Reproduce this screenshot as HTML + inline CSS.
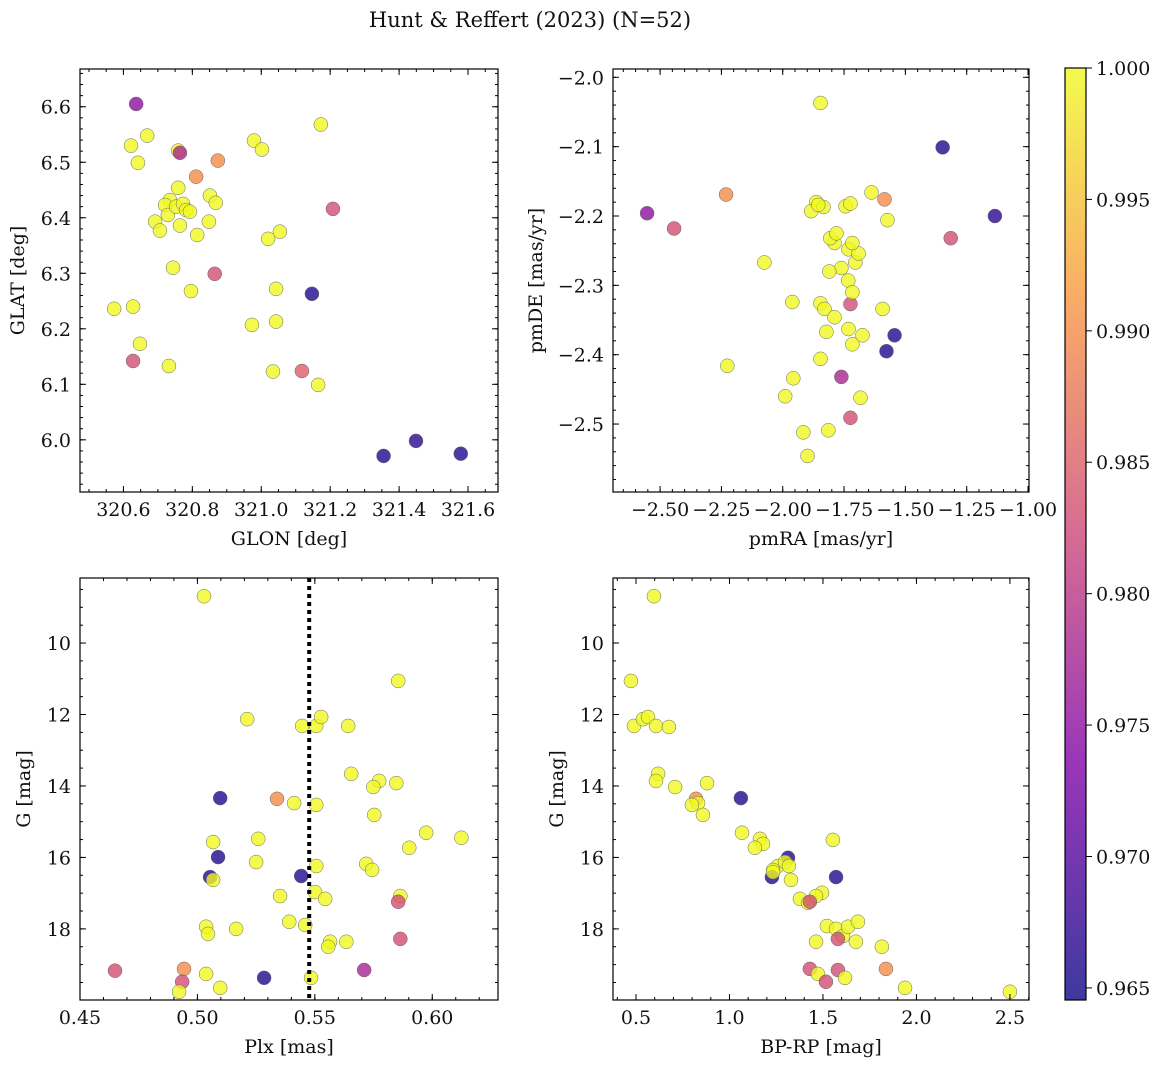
<!DOCTYPE html>
<html><head><meta charset="utf-8">
<style>
html,body{margin:0;padding:0;background:#fff;}
svg text{font-family:"DejaVu Serif","Liberation Serif",serif;fill:#111;}
</style></head>
<body>
<svg id="chart" width="1161" height="1068" xmlns="http://www.w3.org/2000/svg">
<defs>
<linearGradient id="plasma" x1="0" y1="1" x2="0" y2="0">
<stop offset="0" stop-color="#0d0887"/><stop offset="0.25" stop-color="#7e03a8"/>
<stop offset="0.5" stop-color="#cc4778"/><stop offset="0.75" stop-color="#f89540"/>
<stop offset="1" stop-color="#f0f921"/></linearGradient>
</defs>
<text x="530" y="27" font-size="21" text-anchor="middle">Hunt &amp; Reffert (2023) (N=52)</text>
</svg>
<script>
// ---- data ----
const p1_glon=[320.637,320.622,320.669,320.642,320.759,320.764,320.874,321.173,320.979,321.002,320.811,321.208,320.759,320.735,320.721,320.692,320.729,320.753,320.773,320.782,320.793,320.764,320.706,320.851,320.868,320.848,320.814,320.744,320.796,320.865,321.043,321.054,321.020,321.043,320.973,321.034,321.147,320.573,320.628,320.648,320.628,320.732,321.118,321.165,321.355,321.449,321.579];
const p1_glat=[6.605,6.530,6.548,6.499,6.521,6.517,6.503,6.568,6.539,6.523,6.474,6.416,6.454,6.432,6.423,6.393,6.405,6.42,6.425,6.414,6.411,6.386,6.377,6.44,6.427,6.393,6.369,6.31,6.268,6.299,6.272,6.375,6.362,6.213,6.207,6.123,6.263,6.236,6.240,6.173,6.142,6.133,6.124,6.099,5.971,5.998,5.975];
const p1_prob=[0.975,1,1,1,1,0.978,0.99,1,1,1,0.99,0.983,1,1,1,1,1,1,1,1,1,1,1,1,1,1,1,1,1,0.983,1,1,1,1,1,1,0.966,1,1,1,0.983,1,0.985,1,0.966,0.967,0.966];

const p2_pmra=[-1.846,-2.553,-2.443,-2.231,-2.075,-2.226,-1.961,-1.957,-1.990,-1.916,-1.899,-1.814,-1.846,-1.822,-1.846,-1.830,-1.789,-1.761,-1.724,-1.683,-1.724,-1.732,-1.716,-1.675,-1.733,-1.716,-1.761,-1.810,-1.789,-1.806,-1.781,-1.732,-1.704,-1.691,-1.716,-1.863,-1.884,-1.834,-1.855,-1.744,-1.724,-1.638,-1.585,-1.573,-1.593,-1.544,-1.577,-1.348,-1.135,-1.315];
const p2_pmde=[-2.037,-2.196,-2.218,-2.169,-2.267,-2.416,-2.324,-2.434,-2.460,-2.512,-2.546,-2.509,-2.406,-2.367,-2.326,-2.334,-2.346,-2.432,-2.491,-2.462,-2.327,-2.363,-2.385,-2.372,-2.293,-2.31,-2.275,-2.28,-2.239,-2.232,-2.225,-2.248,-2.267,-2.254,-2.239,-2.18,-2.193,-2.187,-2.184,-2.186,-2.182,-2.166,-2.176,-2.206,-2.334,-2.372,-2.395,-2.101,-2.2,-2.232];
const p2_prob=[1,0.975,0.983,0.99,1,1,1,1,1,1,1,1,1,1,1,1,1,0.978,0.983,1,0.983,1,1,1,1,1,1,1,1,1,1,1,1,1,1,1,1,1,1,1,1,1,0.99,1,1,0.966,0.966,0.966,0.967,0.983];

const p3_plx=[0.5028,0.5855,0.5212,0.5446,0.5506,0.5527,0.5642,0.5655,0.5774,0.5749,0.5847,0.5753,0.5097,0.5339,0.5412,0.5506,0.5067,0.5259,0.5974,0.6124,0.5902,0.525,0.5088,0.5506,0.5719,0.5744,0.5054,0.5067,0.5442,0.5352,0.5501,0.5544,0.5864,0.5855,0.5391,0.5459,0.5037,0.5045,0.5165,0.5565,0.5557,0.5634,0.5864,0.4649,0.4943,0.4935,0.5037,0.5284,0.5484,0.571,0.4922,0.5097];
const p3_g=[8.69,11.06,12.13,12.32,12.32,12.07,12.32,13.66,13.86,14.03,13.92,14.81,14.34,14.36,14.48,14.53,15.57,15.48,15.31,15.45,15.73,16.13,15.99,16.24,16.18,16.35,16.55,16.63,16.52,17.08,16.97,17.16,17.08,17.24,17.80,17.89,17.94,18.14,18.0,18.36,18.5,18.36,18.28,19.17,19.12,19.48,19.26,19.37,19.37,19.15,19.76,19.65];
const p3_prob=[1,1,1,1,1,1,1,1,1,1,1,1,0.966,0.99,1,1,1,1,1,1,1,1,0.966,1,1,1,0.966,1,0.966,1,1,1,1,0.983,1,1,1,1,1,1,1,1,0.983,0.983,0.99,0.983,1,0.966,1,0.978,1,1];
const p3_cut=[0.5476];

const p4_bprp=[0.596,0.473,0.489,0.537,0.564,0.607,0.676,0.618,0.607,0.709,0.880,0.821,0.832,0.799,0.858,1.061,1.067,1.163,1.179,1.136,1.553,1.313,1.259,1.297,1.318,1.233,1.227,1.233,1.329,1.570,1.377,1.420,1.495,1.463,1.430,1.521,1.570,1.607,1.634,1.687,1.463,1.676,1.580,1.815,1.430,1.473,1.516,1.580,1.618,1.837,1.939,2.500];
const p4_g=[8.69,11.06,12.32,12.13,12.07,12.32,12.35,13.66,13.86,14.03,13.92,14.36,14.48,14.53,14.81,14.34,15.31,15.48,15.62,15.73,15.51,16.01,16.24,16.13,16.24,16.35,16.55,16.41,16.63,16.55,17.16,17.27,16.99,17.08,17.24,17.92,18.0,18.2,17.94,17.80,18.36,18.36,18.28,18.50,19.12,19.26,19.48,19.15,19.37,19.12,19.65,19.76];
const p4_prob=[1,1,1,1,1,1,1,1,1,1,1,0.99,1,1,1,0.966,1,1,1,1,1,0.966,1,1,1,1,0.966,1,1,0.966,1,1,1,1,0.983,1,1,1,1,1,1,1,0.983,1,0.983,1,0.983,0.983,1,0.99,1,1];

const cbTicks=[0.965,0.970,0.975,0.980,0.985,0.990,0.995,1.000];
const CMIN=0.96454, CMAX=1.0;

// ---- helpers ----
const NS="http://www.w3.org/2000/svg";
const svg=document.getElementById('chart');
const FS=19;
function mk(tag,attrs,parent){const e=document.createElementNS(NS,tag);for(const k in attrs)e.setAttribute(k,attrs[k]);(parent||svg).appendChild(e);return e;}
const stops=[[0,[13,8,135]],[0.25,[126,3,168]],[0.5,[204,71,120]],[0.75,[248,149,64]],[1,[240,249,33]]];
function cmap(v){let t=(v-CMIN)/(CMAX-CMIN);t=Math.max(0,Math.min(1,t));
 for(let i=0;i<stops.length-1;i++){const a=stops[i],b=stops[i+1];if(t<=b[0]){const f=(t-a[0])/(b[0]-a[0]);return 'rgb('+a[1].map((c,j)=>Math.round(c+(b[1][j]-c)*f)).join(',')+')';}}
 return 'rgb(240,249,33)';}
function fmt(v,d){const s=Math.abs(v).toFixed(d);return (v<-1e-9?'\u2212':'')+s;}

function panel(o){
 const g=mk('g',{});
 
 
 const sx=v=>o.x0+(v-o.xmin)/(o.xmax-o.xmin)*(o.x1-o.x0);
 const sy=v=>o.inv? o.y0+(v-o.ymin)/(o.ymax-o.ymin)*(o.y1-o.y0) : o.y1-(v-o.ymin)/(o.ymax-o.ymin)*(o.y1-o.y0);
 for(let i=0;i<o.xs.length;i++){
  const c=mk('circle',{cx:sx(o.xs[i]),cy:sy(o.ys[i]),r:7,fill:cmap(o.cs[i]),'fill-opacity':0.8,stroke:'#666','stroke-width':0.5},g);
  
  
 }
 if(o.vline){o.vline.forEach(v=>{const l=mk('line',{x1:sx(v),x2:sx(v),y1:o.y0,y2:o.y1,stroke:'#000','stroke-width':4,'stroke-dasharray':'4,4'},g);
  
  });}
 const fr=mk('rect',{x:o.x0,y:o.y0,width:o.x1-o.x0,height:o.y1-o.y0,fill:'none',stroke:'#000','stroke-width':1.2},g);
 
 
 const eps=1e-9;
 function ticksRange(a,b,step){const r=[];const s=Math.ceil((Math.min(a,b)-eps)/step);for(let k=s;k*step<=Math.max(a,b)+eps;k++)r.push(k*step);return r;}
 ticksRange(o.xmin,o.xmax,o.xminor).forEach(v=>{const x=sx(v);mk('line',{x1:x,x2:x,y1:o.y1,y2:o.y1-3,stroke:'#000'},g);mk('line',{x1:x,x2:x,y1:o.y0,y2:o.y0+3,stroke:'#000'},g);});
 ticksRange(o.ymin,o.ymax,o.yminor).forEach(v=>{const y=sy(v);mk('line',{x1:o.x0,x2:o.x0+3,y1:y,y2:y,stroke:'#000'},g);mk('line',{x1:o.x1,x2:o.x1-3,y1:y,y2:y,stroke:'#000'},g);});
 o.xt.forEach(v=>{const x=sx(v);mk('line',{x1:x,x2:x,y1:o.y1,y2:o.y1-6,stroke:'#000'},g);mk('line',{x1:x,x2:x,y1:o.y0,y2:o.y0+6,stroke:'#000'},g);
  const t=mk('text',{x:x,y:o.y1+24,'font-size':FS,'text-anchor':'middle'},g);t.textContent=fmt(v,o.xd);
  
  });
 o.yt.forEach(v=>{const y=sy(v);mk('line',{x1:o.x0,x2:o.x0+6,y1:y,y2:y,stroke:'#000'},g);mk('line',{x1:o.x1,x2:o.x1-6,y1:y,y2:y,stroke:'#000'},g);
  const t=mk('text',{x:o.x0-9,y:y+7,'font-size':FS,'text-anchor':'end'},g);t.textContent=fmt(v,o.yd);
  
  });
 const xl=mk('text',{x:(o.x0+o.x1)/2,y:o.y1+53,'font-size':FS,'text-anchor':'middle'},g);xl.textContent=o.xlabel;
 
 
 const ly=(o.y0+o.y1)/2;
 const yl=mk('text',{x:o.ylx,y:ly,'font-size':FS,'text-anchor':'middle',transform:'rotate(-90 '+o.ylx+' '+ly+')'},g);yl.textContent=o.ylabel;
 
 
}
function rng(a,b,s){const r=[];for(let v=a;v<=b+1e-9;v+=s)r.push(Math.round(v*1000)/1000);return r;}

panel({name:'glon-glat-panel',x0:80,x1:498,y0:69,y1:492,xmin:320.474,xmax:321.687,ymin:5.906,ymax:6.668,
 xs:p1_glon,ys:p1_glat,cs:p1_prob,xt:rng(320.6,321.6,0.2),yt:rng(6.0,6.6,0.1),xd:1,yd:1,xminor:0.05,yminor:0.02,
 xlabel:'GLON [deg]',ylabel:'GLAT [deg]',ylx:24});
panel({name:'proper-motion-panel',x0:613,x1:1029,y0:69,y1:492,xmin:-2.692,xmax:-0.996,ymin:-2.598,ymax:-1.988,
 xs:p2_pmra,ys:p2_pmde,cs:p2_prob,xt:rng(-2.5,-1.0,0.25),yt:rng(-2.5,-2.0,0.1),xd:2,yd:1,xminor:0.05,yminor:0.02,
 xlabel:'pmRA [mas/yr]',ylabel:'pmDE [mas/yr]',ylx:542});
panel({name:'parallax-mag-panel',x0:80,x1:498,y0:578,y1:1000,xmin:0.45,xmax:0.628,ymin:8.18,ymax:19.99,inv:true,
 xs:p3_plx,ys:p3_g,cs:p3_prob,vline:p3_cut,xt:rng(0.45,0.60,0.05),yt:rng(10,18,2),xd:2,yd:0,xminor:0.01,yminor:0.5,
 xlabel:'Plx [mas]',ylabel:'G [mag]',ylx:30});
panel({name:'color-magnitude-panel',x0:613,x1:1029,y0:578,y1:1000,xmin:0.377,xmax:2.602,ymin:8.18,ymax:19.99,inv:true,
 xs:p4_bprp,ys:p4_g,cs:p4_prob,xt:rng(0.5,2.5,0.5),yt:rng(10,18,2),xd:1,yd:0,xminor:0.1,yminor:0.5,
 xlabel:'BP-RP [mag]',ylabel:'G [mag]',ylx:563});

const cb=mk('g',{});


mk('rect',{x:1065,y:68,width:21,height:932,fill:'url(#plasma)','fill-opacity':0.8},cb);
mk('rect',{x:1065,y:68,width:21,height:932,fill:'none',stroke:'#000','stroke-width':1.2},cb);
const cy=v=>1000-(v-CMIN)/(CMAX-CMIN)*932;
cbTicks.forEach(v=>{const y=cy(v);mk('line',{x1:1086,x2:1092,y1:y,y2:y,stroke:'#000'},cb);
 const t=mk('text',{x:1096,y:y+7,'font-size':FS},cb);t.textContent=v.toFixed(3);
 
 });
</script>
</body></html>
